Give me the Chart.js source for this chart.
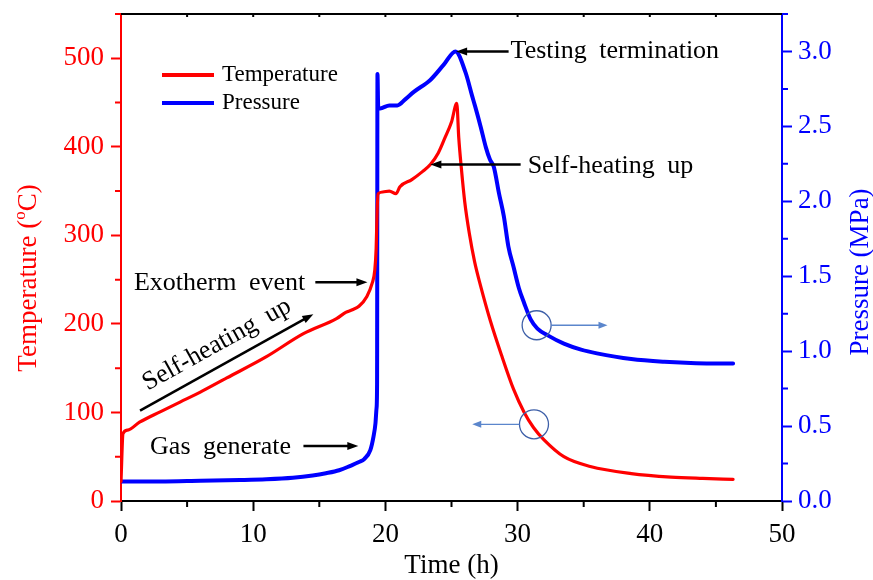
<!DOCTYPE html>
<html>
<head>
<meta charset="utf-8">
<script src="https://cdn.jsdelivr.net/npm/chart.js@4.4.0/dist/chart.umd.min.js"></script>
<style>
  html, body { margin: 0; padding: 0; background: #fff; }
</style>
</head>
<body>
<canvas id="arcChart" width="873" height="580"></canvas>
<script>
// Temperature readings: time (h) and temperature (degC)
const tempTime = [0, 0.15, 0.5, 1.4, 3, 4.5, 6, 8, 11, 13.8,
  16.3, 17.0, 17.5, 18.0, 18.6, 19.0, 19.2, 19.3, 19.38, 19.45,
  19.8, 20.3, 20.8, 21.1, 22.0, 22.8, 23.4, 24.0, 24.5, 25.0,
  25.4, 25.55, 25.75, 26.0, 26.35, 26.75, 27.2, 27.95, 28.8, 29.7,
  30.5, 31.2, 32.0, 33.5, 35.5, 38.6, 41.6, 44.0, 46.3];
const tempValues = [22, 76, 80, 89, 101, 112, 123, 139, 163, 189,
  206, 213, 216, 220, 231, 246, 261, 285, 330, 347,
  349, 350, 347, 355, 363, 372, 380, 393, 410, 428,
  449, 410, 375, 338, 302, 270, 243, 203, 164, 126,
  100, 83, 69, 50, 39, 31, 27, 25.5, 24.5];

// Pressure readings: time (h) and pressure (MPa)
const pressTime = [0, 3, 6, 9, 11, 13, 14.5, 15.5, 16.5,
  17.35, 18.0, 18.4, 18.86, 19.1, 19.25, 19.33, 19.37, 19.4, 19.46,
  19.6, 20.3, 20.9, 21.5, 22.15, 23.4, 24.4, 25.3, 26.06, 26.57,
  26.8, 27.2, 27.6, 27.9, 28.2, 28.6, 28.96, 29.3, 29.7, 30.1,
  30.5, 31.0, 31.5, 32.25, 33.5, 34.8, 36.0, 38.6, 41.1, 43.5, 46.3];
const pressValues = [0.13, 0.13, 0.135, 0.14, 0.145, 0.155, 0.17, 0.185, 0.205,
  0.235, 0.26, 0.28, 0.34, 0.43, 0.52, 0.62, 0.78, 2.85, 2.62,
  2.62, 2.64, 2.64, 2.68, 2.73, 2.81, 2.91, 3.0, 2.86, 2.70,
  2.63, 2.50, 2.36, 2.28, 2.23, 2.05, 1.90, 1.70, 1.56, 1.42,
  1.32, 1.21, 1.15, 1.107, 1.05, 1.01, 0.985, 0.947, 0.929, 0.92, 0.918];

// Axis ticks
const timeTicks = [0, 10, 20, 30, 40, 50];
const tempTicks = [0, 100, 200, 300, 400, 500];
const pressTicks = [0, 0.5, 1.0, 1.5, 2.0, 2.5, 3.0];

const seriesNames = ['Temperature', 'Pressure'];

const SERIF = '"Liberation Serif", "Times New Roman", serif';
const RED = '#ff0000';
const BLUE = '#0000ff';

function toPoints(xs, ys) {
    return xs.map((t, i) => ({ x: t, y: ys[i] }));
}

// filled-head arrow from (x1,y1) to (x2,y2)
function arrow(ctx, x1, y1, x2, y2, color, width, headLen, headW) {
    const a = Math.atan2(y2 - y1, x2 - x1);
    ctx.save();
    ctx.strokeStyle = color;
    ctx.fillStyle = color;
    ctx.lineWidth = width;
    ctx.beginPath();
    ctx.moveTo(x1, y1);
    ctx.lineTo(x2 - Math.cos(a) * headLen * 0.7, y2 - Math.sin(a) * headLen * 0.7);
    ctx.stroke();
    ctx.translate(x2, y2);
    ctx.rotate(a);
    ctx.beginPath();
    ctx.moveTo(0, 0);
    ctx.lineTo(-headLen, -headW);
    ctx.lineTo(-headLen, headW);
    ctx.closePath();
    ctx.fill();
    ctx.restore();
}

function label(ctx, text, x, y, size) {
    ctx.save();
    ctx.font = size + 'px ' + SERIF;
    if ('wordSpacing' in ctx) ctx.wordSpacing = '6px';
    ctx.fillStyle = '#000';
    ctx.textAlign = 'left';
    ctx.textBaseline = 'middle';
    ctx.fillText(text, x, y);
    ctx.restore();
}

// frame, minor ticks, titles, legend and annotations
const overlay = {
    id: 'overlay',
    beforeDatasetsDraw(chart) {
        const { ctx, chartArea: a, scales: { x, y, y1 } } = chart;
        ctx.save();
        ctx.lineWidth = 2;
        // top frame line
        ctx.strokeStyle = '#000';
        ctx.beginPath();
        ctx.moveTo(a.left, a.top);
        ctx.lineTo(a.right, a.top);
        ctx.stroke();
        // minor ticks
        ctx.beginPath();
        for (let t = 5; t < 50; t += 10) {
            const p = x.getPixelForValue(t);
            ctx.moveTo(p, a.bottom);
            ctx.lineTo(p, a.bottom + 6);
        }
        for (let t = 5; t < 50; t += 5) {
            const p = x.getPixelForValue(t);
            ctx.moveTo(p, a.top);
            ctx.lineTo(p, a.top + 3);
        }
        ctx.stroke();
        ctx.strokeStyle = RED;
        ctx.beginPath();
        for (let v = 50; v <= 550; v += 100) {
            const p = y.getPixelForValue(v);
            ctx.moveTo(a.left, p);
            ctx.lineTo(a.left - 6, p);
        }
        ctx.stroke();
        ctx.strokeStyle = BLUE;
        ctx.beginPath();
        for (let v = 0.25; v <= 3.25; v += 0.5) {
            const p = y1.getPixelForValue(v);
            ctx.moveTo(a.right, p);
            ctx.lineTo(a.right + 6, p);
        }
        ctx.stroke();
        ctx.restore();
    },
    afterDraw(chart) {
        const { ctx, chartArea: a, scales: { x, y, y1 } } = chart;
        const px = t => x.getPixelForValue(t);
        const pt = v => y.getPixelForValue(v);
        const pp = v => y1.getPixelForValue(v);

        // axis titles
        ctx.save();
        ctx.font = '27px ' + SERIF;
        ctx.textBaseline = 'middle';
        ctx.fillStyle = '#000';
        ctx.textAlign = 'center';
        ctx.fillText('Time (h)', (a.left + a.right) / 2, 566);

        ctx.save();
        ctx.translate(29, 278);
        ctx.rotate(-Math.PI / 2);
        ctx.fillStyle = RED;
        const p1 = 'Temperature (', sup = 'o', p2 = 'C)';
        ctx.font = '27px ' + SERIF;
        const w1 = ctx.measureText(p1).width, w3 = ctx.measureText(p2).width;
        ctx.font = '17px ' + SERIF;
        const w2 = ctx.measureText(sup).width;
        let sx = -(w1 + w2 + w3) / 2;
        ctx.textAlign = 'left';
        ctx.font = '27px ' + SERIF;
        ctx.fillText(p1, sx, 0);
        ctx.font = '17px ' + SERIF;
        ctx.fillText(sup, sx + w1, -8);
        ctx.font = '27px ' + SERIF;
        ctx.fillText(p2, sx + w1 + w2, 0);
        ctx.restore();

        ctx.save();
        ctx.translate(861, 272);
        ctx.rotate(-Math.PI / 2);
        ctx.fillStyle = BLUE;
        ctx.fillText('Pressure (MPa)', 0, 0);
        ctx.restore();
        ctx.restore();

        // legend
        ctx.save();
        chart.data.datasets.forEach((ds, i) => {
            const ly = a.top + 61 + i * 28;
            ctx.strokeStyle = ds.borderColor;
            ctx.lineWidth = 4;
            ctx.beginPath();
            ctx.moveTo(a.left + 41, ly);
            ctx.lineTo(a.left + 93, ly);
            ctx.stroke();
            ctx.font = '23px ' + SERIF;
            ctx.fillStyle = '#000';
            ctx.textBaseline = 'middle';
            ctx.fillText(ds.label, a.left + 101, ly);
        });
        ctx.restore();

        // annotations
        label(ctx, 'Testing termination', px(29.47), pp(3.0), 26);
        arrow(ctx, px(29.32), pp(3.0), px(25.35), pp(3.0), '#000', 2.5, 11, 4);

        label(ctx, 'Self-heating up', px(30.76), pt(378), 26);
        arrow(ctx, px(30.23), pt(380), px(23.4), pt(380), '#000', 2.5, 11, 4);

        label(ctx, 'Exotherm event', px(0.98), pt(246), 26);
        arrow(ctx, px(14.7), pt(247), px(18.64), pt(247), '#000', 2.5, 11, 4);

        label(ctx, 'Gas generate', px(2.2), pt(61), 26);
        arrow(ctx, px(13.8), pt(62), px(17.95), pt(62), '#000', 2.5, 11, 4);

        // slanted arrow along the slow rise
        const ax1 = px(1.44), ay1 = pt(102), ax2 = px(14.55), ay2 = pt(211);
        arrow(ctx, ax1, ay1, ax2, ay2, '#000', 2.5, 11, 4);
        const ang = Math.atan2(ay2 - ay1, ax2 - ax1);
        ctx.save();
        ctx.translate(px(7.25), pt(176.6));
        ctx.rotate(ang);
        ctx.font = '26px ' + SERIF;
        if ('wordSpacing' in ctx) ctx.wordSpacing = '6px';
        ctx.fillStyle = '#000';
        ctx.textAlign = 'center';
        ctx.textBaseline = 'middle';
        ctx.fillText('Self-heating up', 0, 0);
        ctx.restore();

        // circles marking which axis each curve uses
        ctx.save();
        ctx.strokeStyle = '#3d5fa8';
        ctx.lineWidth = 1.3;
        const c1x = px(31.44), c1y = pp(1.173);
        const c2x = px(31.24), c2y = pt(86.6);
        ctx.beginPath();
        ctx.arc(c1x, c1y, 14.5, 0, Math.PI * 2);
        ctx.stroke();
        ctx.beginPath();
        ctx.arc(c2x, c2y, 14.5, 0, Math.PI * 2);
        ctx.stroke();
        ctx.restore();
        arrow(ctx, c1x + 14.5, c1y, px(36.8), c1y, '#5b86cc', 1.3, 9, 3.5);
        arrow(ctx, c2x - 14.5, c2y, px(26.57), c2y, '#5b86cc', 1.3, 9, 3.5);
    }
};

new Chart(document.getElementById('arcChart').getContext('2d'), {
    type: 'line',
    data: {
        datasets: [{
            label: seriesNames[0],
            data: toPoints(tempTime, tempValues),
            borderColor: RED,
            borderWidth: 3.2,
            pointRadius: 0,
            cubicInterpolationMode: 'monotone',
            borderJoinStyle: 'round',
            borderCapStyle: 'round',
            yAxisID: 'y'
        }, {
            label: seriesNames[1],
            data: toPoints(pressTime, pressValues),
            borderColor: BLUE,
            borderWidth: 4,
            pointRadius: 0,
            cubicInterpolationMode: 'monotone',
            borderJoinStyle: 'round',
            borderCapStyle: 'round',
            yAxisID: 'y1'
        }]
    },
    options: {
        responsive: false,
        animation: false,
        devicePixelRatio: 1,
        layout: { padding: { top: 14, left: 0, right: 0, bottom: 0 } },
        plugins: {
            legend: { display: false },
            tooltip: { enabled: false }
        },
        scales: {
            x: {
                type: 'linear',
                min: 0,
                max: 50,
                afterBuildTicks: s => { s.ticks = timeTicks.map(v => ({ value: v })); },
                afterFit: s => { s.height = 79; s.paddingLeft = 0; s.paddingRight = 0; },
                ticks: {
                    color: '#000',
                    font: { family: SERIF, size: 27 },
                    padding: 8,
                    maxRotation: 0
                },
                grid: {
                    drawOnChartArea: false,
                    tickLength: 10,
                    tickWidth: 2,
                    tickColor: '#000'
                },
                border: { color: '#000', width: 2 }
            },
            y: {
                position: 'left',
                min: 0,
                max: 550,
                afterBuildTicks: s => { s.ticks = tempTicks.map(v => ({ value: v })); },
                afterFit: s => { s.width = 121; s.paddingTop = 0; s.paddingBottom = 0; },
                ticks: {
                    color: RED,
                    font: { family: SERIF, size: 27 },
                    padding: 7
                },
                grid: {
                    drawOnChartArea: false,
                    tickLength: 10,
                    tickWidth: 2,
                    tickColor: RED
                },
                border: { color: RED, width: 2 }
            },
            y1: {
                position: 'right',
                min: 0,
                max: 3.25,
                afterBuildTicks: s => { s.ticks = pressTicks.map(v => ({ value: v })); },
                afterFit: s => { s.width = 91; s.paddingTop = 0; s.paddingBottom = 0; },
                ticks: {
                    color: BLUE,
                    font: { family: SERIF, size: 27 },
                    padding: 6,
                    callback: v => Number(v).toFixed(1)
                },
                grid: {
                    drawOnChartArea: false,
                    tickLength: 10,
                    tickWidth: 2,
                    tickColor: BLUE
                },
                border: { color: BLUE, width: 2 }
            }
        }
    },
    plugins: [overlay]
});
</script>
</body>
</html>
